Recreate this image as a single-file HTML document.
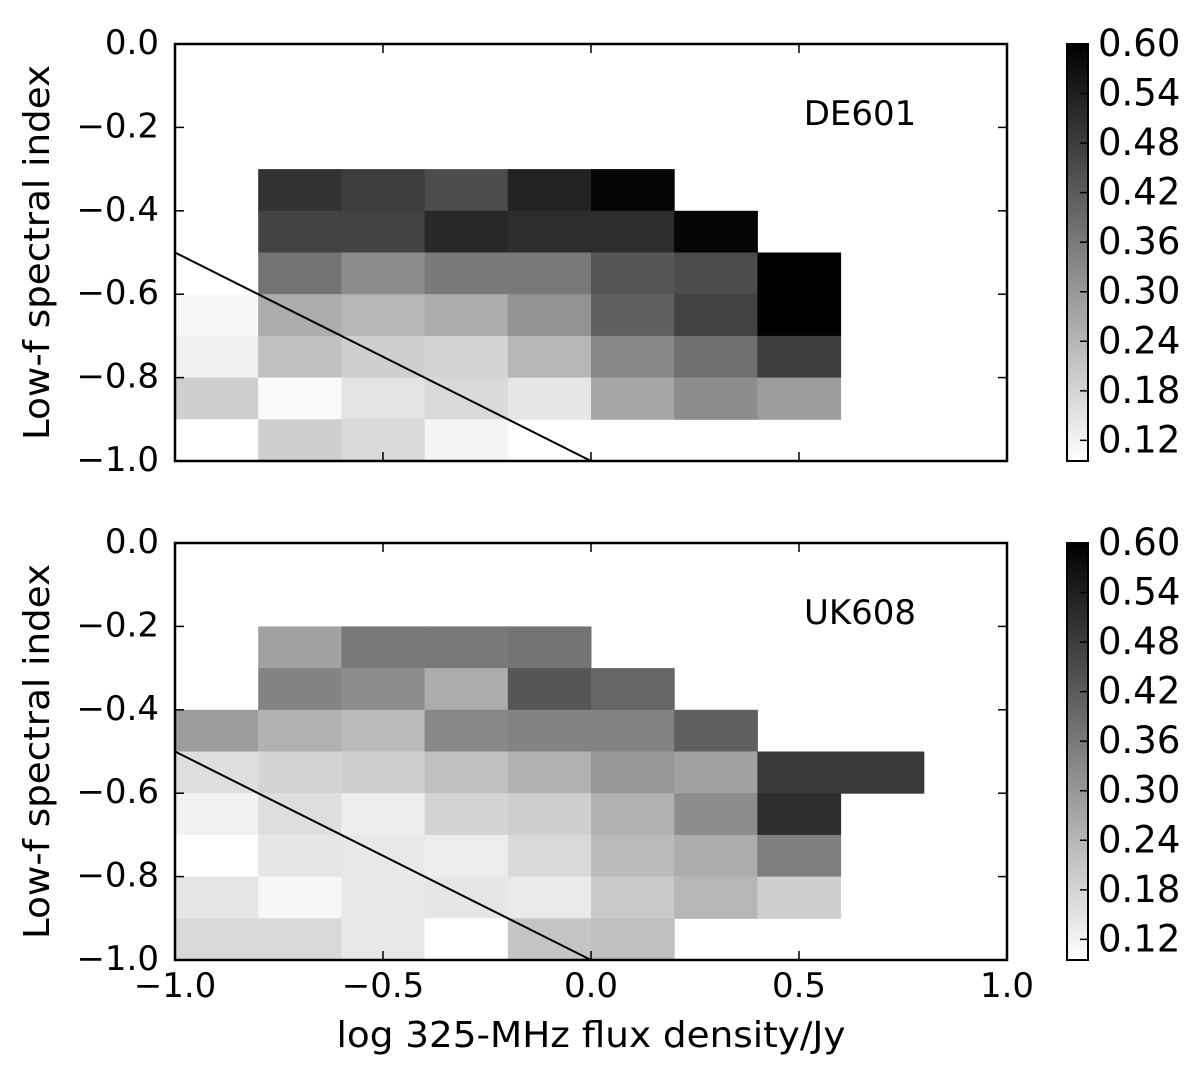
<!DOCTYPE html>
<html><head><meta charset="utf-8"><style>
body{margin:0;background:#fff;}
svg text{font-family:"DejaVu Sans","Liberation Sans",sans-serif;fill:#000;}
</style></head><body>
<svg id="chart" width="1200" height="1079" xmlns="http://www.w3.org/2000/svg"></svg>
<script>
// Data
const xBinStarts = [-1.0,-0.8,-0.6,-0.4,-0.2,0.0,0.2,0.4,0.6];
const yBinStarts = [-0.4,-0.5,-0.6,-0.7,-0.8,-0.9,-1.0];
const deValues = [
 [null,0.50,0.48,0.45,0.53,0.59,null,null],
 [null,0.47,0.47,0.52,0.51,0.51,0.59,null],
 [null,0.37,0.32,0.36,0.36,0.43,0.45,0.60],
 [0.11,0.26,0.24,0.26,0.31,0.41,0.47,0.60],
 [0.124,0.22,0.19,0.18,0.24,0.33,0.38,0.48],
 [0.19,0.104,0.15,0.17,0.144,0.27,0.32,0.29],
 [0.095,0.19,0.17,0.114,null,null,null,null]
];
const ukYBinStarts = [-0.3,-0.4,-0.5,-0.6,-0.7,-0.8,-0.9,-1.0];
const ukValues = [
 [null,0.28,0.36,0.36,0.37,null,null,null,null],
 [null,0.34,0.32,0.26,0.43,0.40,null,null,null],
 [0.29,0.25,0.23,0.33,0.34,0.34,0.41,null,null],
 [0.16,0.18,0.19,0.22,0.25,0.30,0.28,0.49,0.49],
 [0.12,0.16,0.13,0.18,0.19,0.25,0.32,0.51,null],
 [0.095,0.144,0.14,0.13,0.17,0.23,0.26,0.35,null],
 [0.144,0.11,0.14,0.144,0.136,0.20,0.24,0.19,null],
 [0.17,0.17,0.14,0.095,0.21,0.22,null,null,null]
];
const xTicks = [-1.0,-0.5,0.0,0.5,1.0];
const xTickLabels = ["\u22121.0","\u22120.5","0.0","0.5","1.0"];
const yTicks = [0.0,-0.2,-0.4,-0.6,-0.8,-1.0];
const yTickLabels = ["0.0","\u22120.2","\u22120.4","\u22120.6","\u22120.8","\u22121.0"];
const cbTicks = [0.12,0.18,0.24,0.30,0.36,0.42,0.48,0.54,0.60];
const cbTickLabels = ["0.12","0.18","0.24","0.30","0.36","0.42","0.48","0.54","0.60"];
const lineX = [-1.0,0.0];
const lineY = [-0.5,-1.0];
const vmin = 0.095, vmax = 0.60;

const svg = document.getElementById('chart');
const NS = 'http://www.w3.org/2000/svg';
function mk(tag, attrs, parent){const e=document.createElementNS(NS,tag);for(const k in attrs)e.setAttribute(k,attrs[k]);(parent||svg).appendChild(e);return e;}
function gray(v){let t=(v-vmin)/(vmax-vmin);t=Math.max(0,Math.min(1,t));const g=Math.round(255*(1-t));return `rgb(${g},${g},${g})`;}

const L=175,R=1007;
const FS=34;
function xs(x){return L+(x+1)/2*(R-L);}
function panel(top,bot,rows,vals,label,name,showX){
  const g=mk('g',{});
  
  
  const ys=y=>top+(0-y)*(bot-top);
  vals.forEach((row,ri)=>row.forEach((v,ci)=>{
    if(v===null)return;
    const x0=xs(xBinStarts[ci]),x1=xs(xBinStarts[ci]+0.2);
    const y0=ys(rows[ri]+0.1),y1=ys(rows[ri]);
    const r=mk('rect',{x:x0,y:y0,width:x1-x0+0.5,height:y1-y0+0.5,fill:gray(v)},g);
    
    
  }));
  const ln=mk('line',{x1:xs(lineX[0]),y1:ys(lineY[0]),x2:xs(lineX[1]),y2:ys(lineY[1]),stroke:'#000','stroke-width':2},g);
  
  
  const fr=mk('rect',{x:L,y:top,width:R-L,height:bot-top,fill:'none',stroke:'#000','stroke-width':2.5},g);
  
  
  yTicks.forEach((t,i)=>{
    const y=ys(t);
    mk('line',{x1:L,y1:y,x2:L+9,y2:y,stroke:'#000','stroke-width':1.5},g);
    mk('line',{x1:R,y1:y,x2:R-9,y2:y,stroke:'#000','stroke-width':1.5},g);
    const tx=mk('text',{x:159,y:y+10,'font-size':FS,'text-anchor':'end'},g);
    tx.textContent=yTickLabels[i];
    
    
  });
  xTicks.forEach((t,i)=>{
    const x=xs(t);
    mk('line',{x1:x,y1:top,x2:x,y2:top+9,stroke:'#000','stroke-width':1.5},g);
    mk('line',{x1:x,y1:bot,x2:x,y2:bot-9,stroke:'#000','stroke-width':1.5},g);
    if(showX){
      const tx=mk('text',{x:x,y:bot+37,'font-size':FS,'text-anchor':'middle'},g);
      tx.textContent=xTickLabels[i];
      
      
    }
  });
  const lb=mk('text',{x:860,y:top+81,'font-size':FS,'text-anchor':'middle'},g);
  lb.textContent=label;
  
  
  const yl=mk('text',{x:0,y:0,'font-size':36,'text-anchor':'middle',textLength:375,lengthAdjust:'spacingAndGlyphs',transform:`translate(49,${(top+bot)/2}) rotate(-90)`},g);
  yl.textContent='Low-f spectral index';
  
  
  const cg=mk('g',{},g);
  
  
  const gid='grad'+name;
  const defs=mk('defs',{},cg);
  const lg=mk('linearGradient',{id:gid,x1:0,y1:1,x2:0,y2:0},defs);
  mk('stop',{offset:0,'stop-color':gray(vmin)},lg);
  mk('stop',{offset:1,'stop-color':gray(vmax)},lg);
  mk('rect',{x:1067,y:top,width:21,height:bot-top,fill:`url(#${gid})`,stroke:'#000','stroke-width':2},cg);
  const cy=v=>bot-(v-vmin)/(vmax-vmin)*(bot-top);
  cbTicks.forEach((t,i)=>{
    const y=cy(t);
    mk('line',{x1:1080,y1:y,x2:1088,y2:y,stroke:'#000','stroke-width':1.5},cg);
    const tx=mk('text',{x:1098,y:y+12,'font-size':37},cg);
    tx.textContent=cbTickLabels[i];
    
    
  });
}
panel(44,461,yBinStarts,deValues,'DE601','panel-de601',false);
panel(543,960,ukYBinStarts,ukValues,'UK608','panel-uk608',true);
const xl=mk('text',{x:591,y:1047,'font-size':36,'text-anchor':'middle',textLength:509,lengthAdjust:'spacingAndGlyphs'});
xl.textContent='log 325-MHz flux density/Jy';


</script>
</body></html>
